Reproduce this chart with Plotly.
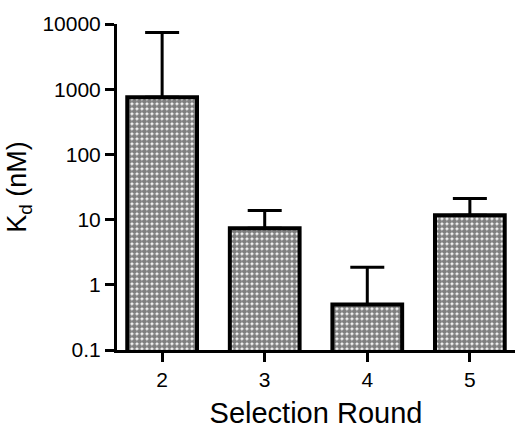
import plotly.graph_objects as go

rounds = ["2", "3", "4", "5"]
kd_values = [750, 7.4, 0.5, 11.7]
kd_err_up = [6650, 6.4, 1.36, 9.3]
tick_vals = [0.1, 1, 10, 100, 1000, 10000]
tick_text = ["0.1", "1", "10", "100", "1000", "10000"]

font = "Liberation Sans, Arial, sans-serif"

fig = go.Figure()
fig.add_trace(go.Bar(
    x=rounds, y=kd_values, width=0.68,
    marker=dict(
        color="white",
        line=dict(color="black", width=4),
        pattern=dict(shape=".", fgcolor="black", bgcolor="white", size=5, solidity=0.78),
    ),
    error_y=dict(type="data", symmetric=False, array=kd_err_up,
                 arrayminus=[0, 0, 0, 0], color="black", thickness=3, width=17),
))

fig.update_layout(
    width=519, height=429,
    margin=dict(l=117, r=4, t=24, b=79),
    plot_bgcolor="white", paper_bgcolor="white",
    showlegend=False,
    font=dict(family=font, color="black"),
    xaxis=dict(
        type="category", range=[-0.44, 3.44],
        showline=True, linecolor="black", linewidth=3,
        ticks="outside", ticklen=9, tickwidth=3, tickcolor="black",
        tickfont=dict(size=21, family=font),
        title=dict(text="Selection Round", font=dict(size=29, family=font), standoff=13),
        showgrid=False, zeroline=False,
    ),
    yaxis=dict(
        type="log", range=[-1, 4],
        tickvals=tick_vals, ticktext=tick_text,
        showline=True, linecolor="black", linewidth=3,
        ticks="outside", ticklen=9, tickwidth=3, tickcolor="black",
        tickfont=dict(size=21, family=font),
        title=dict(text="K<sub>d</sub> (nM)", font=dict(size=27, family=font), standoff=8),
        showgrid=False, zeroline=False,
    ),
)

fig.write_html("out.html", config={"displayModeBar": False},
               post_script="document.body.style.margin='0';")
